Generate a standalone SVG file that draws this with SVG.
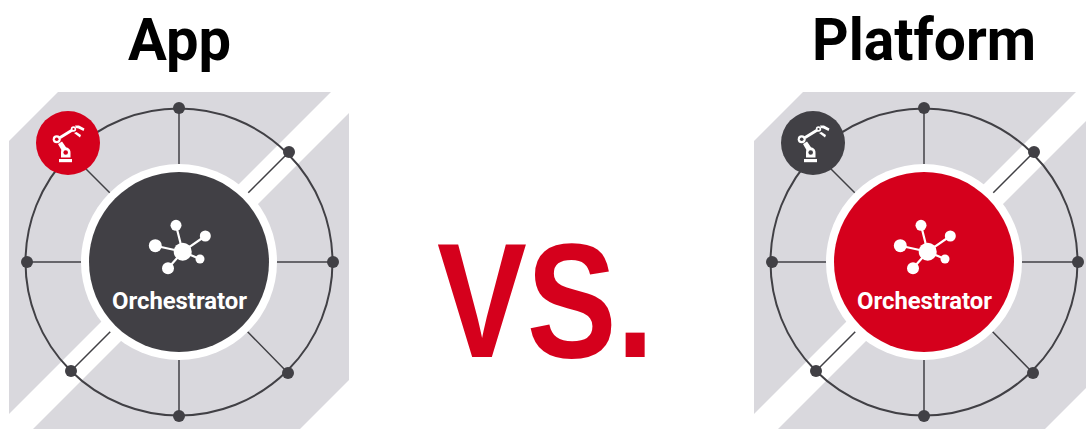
<svg xmlns="http://www.w3.org/2000/svg" xmlns:xlink="http://www.w3.org/1999/xlink" width="1086" height="429" viewBox="0 0 1086 429">
<style>
.bg{fill:#d9d8dd}.band{fill:#fff}
.ring{fill:none;stroke:#414045;stroke-width:2}
.spoke{stroke:#414045;stroke-width:1.5;fill:none}
.dot{fill:#414045}
.halo{fill:#fff}.dark{fill:#414045}.red{fill:#d5001c}
.ic{fill:#fff}.icl{stroke:#fff;stroke-width:2.2;fill:none}
text{font-family:"Roboto","Liberation Sans",sans-serif;font-weight:700}
.title{font-size:60px;fill:#000}
.orc{font-size:24px;fill:#fff}
.vs{font-size:163px;fill:#d5001c;font-family:"Liberation Sans",Arial,sans-serif}
</style>
<defs>
<g id="plate">
<polygon class="bg" points="9,141 58,92 349,92 349,380 300,429 9,429"/>
<polygon class="band" points="331,92 349,92 349,113 33,429 9,429 9,414"/>
</g>
<g id="wheel">
<circle class="ring" cx="179" cy="262" r="153.5"/>
<g class="spoke">
<path d="M179 108V170M179 354V416M27 262H90M268 262H333M71 371L115 327M289 152L243 198M288 373L242 326M86 169L116 199"/>
</g>
<g class="dot">
<circle cx="179" cy="108" r="6"/><circle cx="179" cy="416" r="6"/><circle cx="27" cy="262" r="6"/><circle cx="333" cy="262" r="6"/>
<circle cx="71" cy="371" r="6"/><circle cx="289" cy="152" r="6"/><circle cx="288" cy="373" r="6"/>
</g>
</g>
<g id="robot">
<rect class="ic" x="59" y="159" width="13" height="3.2"/>
<path class="ic" d="M61 157.500V152C61 149 63 147.500 65.500 147.500C68.500 147.500 70.500 149.500 70.500 152.500V157.500Z"/>
<path class="ic" d="M58 144L62 141.500L66.500 148L62 151Z"/>
<path class="ic" d="M59 136.500L72 128.500L73.500 131L60.500 139Z"/>
<circle cx="65.700" cy="152.500" r="2.300" fill="currentColor"/>
<circle class="ic" cx="56.700" cy="139.300" r="4"/><circle cx="56.700" cy="139.300" r="1.800" fill="currentColor"/>
<circle class="ic" cx="73.500" cy="129" r="2.700"/><circle cx="73.500" cy="129" r="1.100" fill="currentColor"/>
<path class="ic" d="M75 125.500L79 125.500L84.500 128.500L83.500 131L78.500 128.500L76 128Z"/>
<path class="ic" d="M74 133L76.500 132L81 135L80 137.500Z"/>
</g>
<g id="hub">
<g class="icl"><path d="M182.700 251.700L176 225.300M182.700 251.700L205.300 236M182.700 251.700L155.300 245.700M182.700 251.700L168 268.300M182.700 251.700L200 259"/></g>
<g class="ic"><circle cx="182.700" cy="251.700" r="9"/><circle cx="176" cy="225.300" r="5.500"/><circle cx="205.300" cy="236" r="5.500"/><circle cx="155.300" cy="245.700" r="6.500"/><circle cx="168" cy="268.300" r="6"/><circle cx="200" cy="259" r="4.500"/></g>
</g>
</defs>

<g id="title-app"><text class="title" x="128" y="60" textLength="103" lengthAdjust="spacingAndGlyphs">App</text></g>
<g id="title-platform"><text class="title" x="812" y="60" textLength="224" lengthAdjust="spacingAndGlyphs">Platform</text></g>
<g id="vs"><text class="vs" x="437" y="357" textLength="217" lengthAdjust="spacingAndGlyphs">VS.</text></g>

<g id="plate-app"><use href="#plate"/></g>
<g id="connectors-app"><use href="#wheel"/></g>
<g id="node-robot-app" color="#d5001c"><circle class="red" cx="68" cy="143" r="32"/><use href="#robot"/></g>
<g id="node-orchestrator-app" color="#414045">
<circle class="halo" cx="179" cy="262" r="98"/><circle class="dark" cx="179" cy="262" r="90"/>
<use href="#hub"/>
<text class="orc" x="112" y="309" textLength="135" lengthAdjust="spacingAndGlyphs">Orchestrator</text>
</g>

<g transform="translate(745 0)">
<g id="plate-platform"><use href="#plate"/></g>
<g id="connectors-platform"><use href="#wheel"/></g>
<g id="node-robot-platform" color="#414045"><circle class="dark" cx="68" cy="143" r="32"/><use href="#robot"/></g>
<g id="node-orchestrator-platform">
<circle class="halo" cx="179" cy="262" r="98"/><circle class="red" cx="179" cy="262" r="90"/>
<use href="#hub"/>
<text class="orc" x="112" y="309" textLength="135" lengthAdjust="spacingAndGlyphs">Orchestrator</text>
</g>
</g>
</svg>
